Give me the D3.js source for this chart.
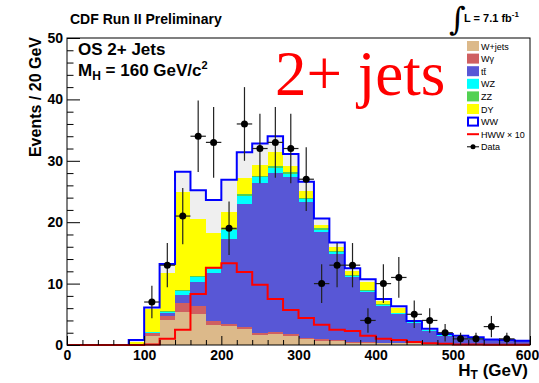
<!DOCTYPE html>
<html>
<head>
<meta charset="utf-8">
<script src="https://cdn.jsdelivr.net/npm/d3@7/dist/d3.min.js"></script>
<style>
  body { margin: 0; background: #fff; }
  svg { display: block; }
</style>
</head>
<body>
<div id="chart"></div>
<script>
// lower edge of each 20 GeV bin in H_T
var binLow = [0, 20, 40, 60, 80, 100, 120, 140, 160, 180, 200, 220, 240, 260, 280,
              300, 320, 340, 360, 380, 400, 420, 440, 460, 480, 500, 520, 540, 560, 580];
var binWidth = 20;

// background expectations (events per bin)
var wjets  = [0, 0, 0, 0, 0, 1.4, 4.1, 5.4, 5.0, 3.3, 3.1, 2.6, 1.6, 1.8, 1.5,
              1.0, 0.7, 0.7, 0.4, 0.4, 0.3, 0.3, 0.25, 0.2, 0.15, 0.1, 0.1, 0.05, 0.05, 0.05];
var wgamma = [0, 0, 0, 0, 0, 0.5, 0.65, 1.5, 1.3, 0.6, 0.4, 0.4, 0.3, 0.3, 0.3,
              0.2, 0.2, 0.1, 0.1, 0.1, 0.05, 0.05, 0.05, 0.05, 0.05, 0.02, 0.02, 0.02, 0.01, 0.01];
var ttbar  = [0, 0, 0, 0, 0, 0.1, 0.45, 1.3, 3.9, 7.9, 13.7, 20.0, 24.5, 25.9, 25.5,
              22.1, 17.5, 14.1, 10.5, 8.1, 6.05, 4.75, 3.3, 2.05, 1.3, 1.15, 0.93, 0.7, 0.63, 0.55];
var wz     = [0, 0, 0, 0, 0, 0.1, 0.2, 0.6, 0.8, 0.6, 1.5, 1.2, 0.9, 0.8, 0.5,
              0.5, 0.4, 0.3, 0.25, 0.2, 0.15, 0.1, 0.1, 0.1, 0.1, 0.05, 0.05, 0.04, 0.03, 0.03];
var zz     = [0, 0, 0, 0, 0, 0.05, 0.1, 0.1, 0.3, 0.3, 0.2, 0.4, 0.3, 0.3, 0.3,
              0.2, 0.2, 0.15, 0.1, 0.1, 0.05, 0.05, 0.05, 0.05, 0.05, 0.03, 0.03, 0.02, 0.02, 0.01];
var dy     = [0, 0, 0, 0, 0.5, 3.7, 6.3, 16.1, 9.2, 5.5, 2.7, 2.6, 1.7, 2.4, 1.0,
              1.1, 0.6, 0.55, 0.65, 1.4, 0.5, 0.85, 0.05, 0.05, 0.05, 0.05, 0.02, 0.02, 0.01, 0];
var ww     = [0, 0, 0, 0, 0.3, 0.25, 1.4, 3.2, 4.7, 5.4, 5.3, 4.2, 3.5, 2.5, 2.0,
              1.5, 1.0, 0.8, 0.5, 0.4, 0.4, 0.2, 0.1, 0.15, 0.1, 0.1, 0.1, 0.05, 0.05, 0.05];

// signal (x10) and observed data
var hwwX10 = [0, 0, 0, 0, 0, 0.1, 1.0, 2.5, 8.3, 12.6, 13.3, 11.9, 9.8, 7.5, 5.7,
              4.4, 3.3, 2.5, 2.3, 1.5, 1.0, 0.8, 0.5, 0.3, 0.2, 0.1, 0.1, 0.05, 0.05, 0.05];
var dataCounts = [0, 0, 0, 0, 0, 7, 13, 21, 34, 33, 19, 36, 32, 33, 32,
                  27, 10, 13, 13, 4, 10, 11, 5, 4, 2, 1, 1, 3, 1, 0];

var stackKeys   = ["wjets", "wgamma", "ttbar", "wz", "zz", "dy", "ww"];
var stackLabels = ["W+jets", "W\u03b3", "tt\u0304", "WZ", "ZZ", "DY", "WW"];
var stackColors = ["#dcb98a", "#cf5f61", "#5857d6", "#00ffff", "#52d152", "#ffff00", "#efefef"];

var xTicks = [0, 100, 200, 300, 400, 500, 600];
var yTicks = [0, 10, 20, 30, 40, 50];

var SANS = "'Liberation Sans', Arial, Helvetica, sans-serif";
var W = 539, H = 383;
var svg = d3.select("#chart").append("svg")
    .attr("width", W)
    .attr("height", H)
    .attr("font-family", SANS);

var x = d3.scaleLinear().domain([0, 600]).range([67, 530]);
var y = d3.scaleLinear().domain([0, 50]).range([345, 38]);

// build the table for d3.stack
var table = binLow.map(function(b, i) {
  return { lo: b, wjets: wjets[i], wgamma: wgamma[i], ttbar: ttbar[i], wz: wz[i],
           zz: zz[i], dy: dy[i], ww: ww[i] };
});
var series = d3.stack().keys(stackKeys)(table);

// step helpers: one point per bin edge, plus the closing edge
function stepPoints(arr) {
  var pts = arr.map(function(d, i) { return { x: binLow[i], a: d[0], b: d[1] }; });
  var last = pts[pts.length - 1];
  pts.push({ x: last.x + binWidth, a: last.a, b: last.b });
  return pts;
}

var area = d3.area()
    .curve(d3.curveStepAfter)
    .x(function(d) { return x(d.x); })
    .y0(function(d) { return y(d.a); })
    .y1(function(d) { return y(d.b); });

var stepLine = d3.line()
    .curve(d3.curveStepAfter)
    .x(function(d) { return x(d.x); })
    .y(function(d) { return y(d.b); });

// stacked backgrounds
svg.append("g").selectAll("path")
  .data(series)
  .enter().append("path")
    .attr("d", function(s) { return area(stepPoints(s)); })
    .attr("fill", function(s, i) { return stackColors[i]; })
    .attr("shape-rendering", "crispEdges");

// blue outline of the total (WW on top)
var totalLayer = series[series.length - 1];
svg.append("path")
    .attr("d", stepLine(stepPoints(totalLayer)))
    .attr("fill", "none")
    .attr("stroke", "#0000ff")
    .attr("stroke-width", 2);

// HWW x 10
svg.append("path")
    .attr("d", stepLine(stepPoints(hwwX10.map(function(v) { return [0, v]; }))))
    .attr("fill", "none")
    .attr("stroke", "#ff0000")
    .attr("stroke-width", 2);

// data with poisson errors
var pts = binLow.map(function(b, i) { return { c: b + binWidth / 2, n: dataCounts[i] }; })
  .filter(function(d) { return d.n > 0; });

var gd = svg.append("g");
gd.selectAll("line.ex").data(pts).enter().append("line")
    .attr("class", "ex")
    .attr("x1", function(d) { return x(d.c - binWidth / 2); })
    .attr("x2", function(d) { return x(d.c + binWidth / 2); })
    .attr("y1", function(d) { return y(d.n); })
    .attr("y2", function(d) { return y(d.n); })
    .attr("stroke", "#222").attr("stroke-width", 1.2);
gd.selectAll("line.ey").data(pts).enter().append("line")
    .attr("class", "ey")
    .attr("x1", function(d) { return x(d.c); })
    .attr("x2", function(d) { return x(d.c); })
    .attr("y1", function(d) { return y(d.n - Math.sqrt(d.n)); })
    .attr("y2", function(d) { return y(d.n + Math.sqrt(d.n)); })
    .attr("stroke", "#222").attr("stroke-width", 1.2);
gd.selectAll("circle").data(pts).enter().append("circle")
    .attr("cx", function(d) { return x(d.c); })
    .attr("cy", function(d) { return y(d.n); })
    .attr("r", 3.5)
    .attr("fill", "#000");

// frame
svg.append("rect")
    .attr("x", x(0)).attr("y", y(50))
    .attr("width", x(600) - x(0)).attr("height", y(0) - y(50))
    .attr("fill", "none").attr("stroke", "#000").attr("stroke-width", 1);

// axes (ticks point inwards, ROOT style)
function styleAxis(g) {
  g.select(".domain").remove();
  g.attr("font-family", SANS);
  g.selectAll("line").attr("stroke", "#000");
  g.selectAll("text")
    .attr("font-size", 14)
    .attr("font-weight", "bold")
    .attr("fill", "#000");
}

svg.append("g")
    .attr("transform", "translate(" + x(0) + ",0)")
    .call(d3.axisLeft(y).tickValues(yTicks).tickSize(-13).tickPadding(4))
    .call(styleAxis);
svg.append("g")
    .attr("transform", "translate(" + x(0) + ",0)")
    .call(d3.axisLeft(y).tickValues(d3.range(2, 50, 2).filter(function(v) { return v % 10; }))
      .tickSize(-6.5).tickFormat(""))
    .call(styleAxis);

var xAxisG = svg.append("g")
    .attr("transform", "translate(0," + y(0) + ")")
    .call(d3.axisBottom(x).tickValues(xTicks).tickSize(-9).tickPadding(5))
    .call(styleAxis);
// last label sits on the right edge of the canvas
xAxisG.selectAll(".tick text").filter(function(d) { return d === 600; }).attr("dx", -3);

svg.append("g")
    .attr("transform", "translate(0," + y(0) + ")")
    .call(d3.axisBottom(x).tickValues(binLow.filter(function(v) { return v % 100; }))
      .tickSize(-5).tickFormat(""))
    .call(styleAxis);

// axis titles
svg.append("text")
    .attr("transform", "translate(41," + (y(50) - 1) + ") rotate(-90)")
    .attr("text-anchor", "end")
    .attr("font-size", 16)
    .attr("font-weight", "bold")
    .text("Events / 20 GeV");

var xt = svg.append("text")
    .attr("x", 528).attr("y", 376)
    .attr("text-anchor", "end")
    .attr("font-size", 17)
    .attr("font-weight", "bold");
xt.append("tspan").text("H");
xt.append("tspan").attr("font-size", 12).attr("dy", 3).text("T");
xt.append("tspan").attr("dy", -3).text(" (GeV)");

// header texts
svg.append("text")
    .attr("x", 70).attr("y", 24)
    .attr("font-size", 14).attr("font-weight", "bold")
    .text("CDF Run II Preliminary");

svg.append("text")
    .attr("x", 449).attr("y", 30)
    .attr("font-family", "'DejaVu Serif', serif")
    .attr("font-size", 32)
    .text("\u222b");
var lumi = svg.append("text")
    .attr("x", 464).attr("y", 22)
    .attr("font-size", 11).attr("font-weight", "bold");
lumi.append("tspan").text("L = 7.1 fb");
lumi.append("tspan").attr("font-size", 8).attr("dy", -5).text("-1");

svg.append("text")
    .attr("x", 78).attr("y", 55)
    .attr("font-size", 17).attr("font-weight", "bold")
    .text("OS 2+ Jets");

var mh = svg.append("text")
    .attr("x", 78).attr("y", 76)
    .attr("font-size", 17).attr("font-weight", "bold");
mh.append("tspan").text("M");
mh.append("tspan").attr("font-size", 12).attr("dy", 4).text("H");
mh.append("tspan").attr("dy", -4).text(" = 160 GeV/c");
mh.append("tspan").attr("font-size", 11).attr("dy", -7).text("2");

svg.append("text")
    .attr("x", 275).attr("y", 95)
    .attr("font-family", "'Liberation Serif', 'Times New Roman', serif")
    .attr("font-size", 63)
    .attr("fill", "#ff0000")
    .text("2+ jets");

// legend
var lg = svg.append("g").attr("transform", "translate(467,46)");
var rowH = 12.6;
stackLabels.forEach(function(lab, i) {
  var r = lg.append("g").attr("transform", "translate(0," + (i * rowH) + ")");
  if (stackKeys[i] === "ww") {
    r.append("rect").attr("x", 1).attr("y", -4).attr("width", 10).attr("height", 8)
      .attr("fill", "#fff").attr("stroke", "#0000ff").attr("stroke-width", 2);
  } else {
    r.append("rect").attr("x", 0).attr("y", -5).attr("width", 12).attr("height", 10)
      .attr("fill", stackColors[i]);
  }
  r.append("text").attr("x", 14).attr("y", 3.5).attr("font-size", 9).text(lab);
});
var rh = lg.append("g").attr("transform", "translate(0," + (7 * rowH) + ")");
rh.append("line").attr("x1", 0).attr("x2", 12).attr("stroke", "#ff0000").attr("stroke-width", 2);
rh.append("text").attr("x", 14).attr("y", 3.5).attr("font-size", 9).text("HWW \u00d7 10");
var rd = lg.append("g").attr("transform", "translate(0," + (8 * rowH) + ")");
rd.append("line").attr("x1", 0).attr("x2", 12).attr("stroke", "#000").attr("stroke-width", 1);
rd.append("circle").attr("cx", 6).attr("r", 2.5).attr("fill", "#000");
rd.append("text").attr("x", 14).attr("y", 3.5).attr("font-size", 9).text("Data");
</script>
</body>
</html>
